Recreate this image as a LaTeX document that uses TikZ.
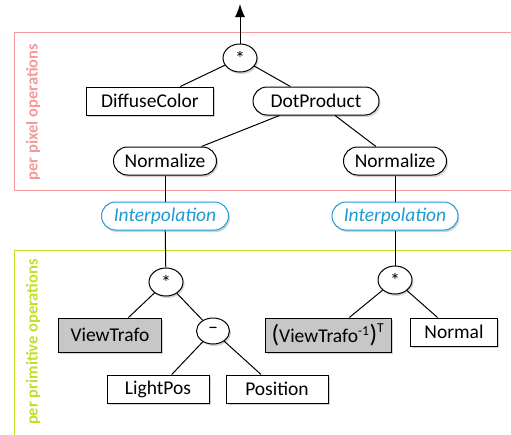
\documentclass[tikz,border=0pt]{standalone}
\usepackage{fontspec}
\setmainfont{Carlito}
\usetikzlibrary{shapes.geometric,shadows,arrows.meta}
\definecolor{pxred}{HTML}{F49A9A}
\definecolor{primgreen}{HTML}{C4DE2A}
\definecolor{interblue}{HTML}{1E9AD6}
\begin{document}
\begin{tikzpicture}[x=1pt,y=-1pt,
  base/.style={draw=black,line width=1pt,fill=white,font=\fontsize{19.5}{21}\selectfont,
    drop shadow={shadow xshift=1.5pt,shadow yshift=-2pt,opacity=0.35},inner sep=0pt},
  rectbox/.style={base,rectangle,minimum height=28pt},
  roundbox/.style={base,rectangle,rounded corners=14pt,minimum height=28pt},
  interbox/.style={roundbox,draw=interblue,text=interblue,font=\fontsize{19.5}{21}\selectfont\itshape},
  opnode/.style={base,ellipse,minimum width=34pt,minimum height=28pt,font=\fontsize{20}{22}\selectfont},
  edge/.style={line width=1pt},
  region/.style={line width=1pt},
  regionlabel/.style={rotate=90,font=\fontsize{16.5}{18}\bfseries\selectfont}]
\useasboundingbox (0,0) rectangle (511,434);
% regions
\draw[region,draw=pxred] (14,32) -- (520,32) (14,32) -- (14,190) -- (520,190);
\node[regionlabel,text=pxred] (lblpx) at (33,112) {per pixel operations};
\draw[region,draw=primgreen] (520,250) -- (14,250) -- (14,440);
\node[regionlabel,text=primgreen] (lblprim) at (33,342) {per primitive operations};
% nodes
\node[opnode] (top) at (240,58) {\raisebox{-4pt}{*}};
\coordinate (out) at (240,4);
\node[rectbox,minimum width=127pt] (diff) at (150,101) {DiffuseColor};
\node[roundbox,minimum width=126pt] (dot) at (316,101) {DotProduct};
\node[roundbox,minimum width=103pt] (normL) at (165,161) {Normalize};
\node[roundbox,minimum width=103pt] (normR) at (395,161) {Normalize};
\node[interbox,minimum width=127pt] (intL) at (165,216) {Interpolation};
\node[interbox,minimum width=126pt] (intR) at (395,216) {Interpolation};
\node[opnode] (mulL) at (166,282) {\raisebox{-4pt}{*}};
\node[opnode] (mulR) at (395,280) {\raisebox{-4pt}{*}};
\node[rectbox,fill=black!22,minimum width=103pt,minimum height=34pt] (vt) at (110,335) {ViewTrafo};
\node[opnode,minimum width=33pt,minimum height=26pt] (minus) at (213,331) {\raisebox{1pt}{–}};
\node[rectbox,minimum width=102pt] (lp) at (158,389) {LightPos};
\node[rectbox,minimum width=102pt] (pos) at (277,389) {Position};
\node[rectbox,fill=black!22,minimum width=126pt,minimum height=34pt] (vti) at (328,335) {{\fontsize{25}{25}\selectfont(}ViewTrafo\textsuperscript{-1}{\fontsize{25}{25}\selectfont)}\raisebox{3pt}{\textsuperscript{T}}};
\node[rectbox,minimum width=87pt] (nrm) at (454,332) {Normal};
% edges
\draw[edge,-{Latex[length=13pt,width=10pt]}] (top) -- (out);
\draw[edge] (top) -- (diff);
\draw[edge] (top) -- (dot);
\draw[edge] (dot) -- (normL);
\draw[edge] (dot) -- (normR);
\draw[edge] (normL) -- (intL);
\draw[edge] (normR) -- (intR);
\draw[edge] (intL) -- (mulL);
\draw[edge] (intR) -- (mulR);
\draw[edge] (mulL) -- (vt);
\draw[edge] (mulL) -- (minus);
\draw[edge] (minus) -- (lp);
\draw[edge] (minus) -- (pos);
\draw[edge] (mulR) -- (vti);
\draw[edge] (mulR) -- (nrm);
\end{tikzpicture}
\end{document}
